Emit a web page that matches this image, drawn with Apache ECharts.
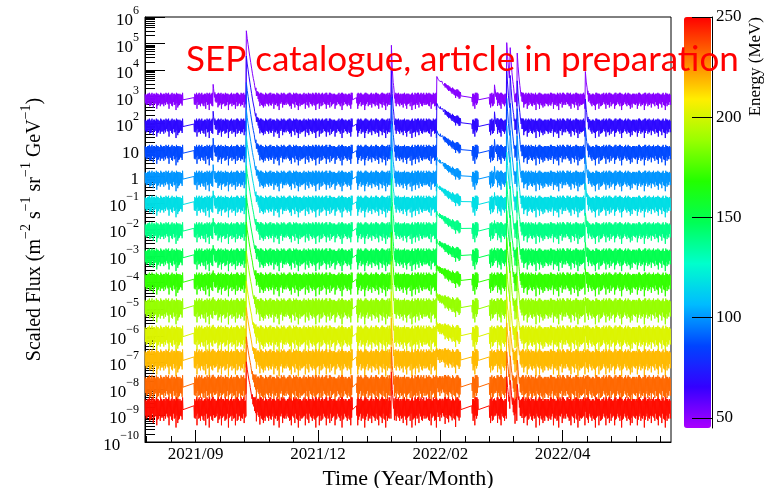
<!DOCTYPE html>
<html>
<head>
<meta charset="utf-8">
<script src="https://cdn.jsdelivr.net/npm/echarts@6/dist/echarts.min.js"></script>
<style>
  html, body { margin: 0; padding: 0; background: #fff; }
  #chart { width: 768px; height: 488px; }
</style>
</head>
<body>
<div id="chart"></div>
<script>
// ---- energy channels (MeV) and quiet-time scaled flux of each channel ----
const channelEnergy = [51, 68, 87, 100, 117, 139, 149, 171, 188, 202, 218, 232, 248];
const quietFlux = [850, 85, 8.5, 0.9, 0.1, 0.01, 1.0e-3, 1.2e-4, 1.2e-5, 1.1e-6, 1.4e-7, 1.4e-8, 2.0e-9];
// relative width of the fluctuation band of each channel
const bandWidth = [0.8, 0.9, 0.95, 0.95, 1.0, 1.0, 1.05, 1.1, 1.2, 1.25, 1.25, 1.35, 1.4];

// ---- observation window and data gaps ----
const firstDay = '2021-08-31';
const lastDay = '2022-06-28';
const dataGaps = [
  ['2021-09-22', '2021-09-27'],
  ['2021-12-28', '2021-12-29'],
  ['2022-02-28', '2022-03-05'],
  ['2022-03-10', '2022-03-15']
];

// ---- flux excursions per half day: upper (x0.045 dex), lower core (x0.055 dex), lower dips (x0.06 dex) ----
const digits = s => s.replace(/\s/g, '').split('').map(Number);
const upperAM = digits(
  '5454654546 4565454565 5456546414 4654545656 5465456545 4556465454 6545456546 4565545465 ' +
  '5456465545 4654556465 5545646554 4656454565 5165546545 4565456556 6454565454 5546456465 ' +
  '4655465545 5465546456 4556454156 6545465154 5465645546 4556546465 5654456545 4565546456 ' +
  '5465454655 4656545465 5454656546 4565465545 5546456454 4655545465 5456465546');
const upperPM = digits(
  '4565456545 5456465454 4655454656 5464565465 4556545546 5465456465 4556546545 5645465456 ' +
  '4565456554 5456545646 4656465454 5465545465 4556456546 5465465454 4656545565 5454656546 ' +
  '4565456454 5656545465 4545656546 5465454565 4656545456 5465456546 4556465455 5465545646 ' +
  '4656456545 5456545465 4565465456 5654546545 4565456565 5456546454 4565465546');
const lowerAM = digits(
  '4546354645 5435463546 4653546354 3546435465 5364546354 4536453546 3645354654 5463546435 ' +
  '4356453645 5436354654 4635453546 3546354654 5463546354 4536453645 3654354546 5436545364 ' +
  '4563546354 3546453645 5463546354 4635453546 5346354654 4536453546 3645354654 5463546435 ' +
  '4356453645 5436354654 4635453546 3546354654 5463546354 4536453645 3654354546');
const lowerPM = digits(
  '5465748564 6548465975 4158564758 5646859465 4758465946 5864657485 4659485764 6548569475 ' +
  '5468475965 4857465948 6548576485 4695465814 5846594657 4658475965 5486465748 4695857465 ' +
  '5468469575 4857465946 1548574685 1469485764 4758465946 5864657485 4659485764 6548569475 ' +
  '5468475965 4857465948 6548576485 4695465874 5846594657 4658475965 5486465748');

// ---- solar energetic particle events ----
const sepOnset = ['2021-10-09', '2021-10-28', '2022-01-19', '2022-02-14', '2022-03-19',
                  '2022-03-26', '2022-03-28', '2022-04-01', '2022-05-10'];
const sepShape = ['short', 'gle', 'fast', 'gradual', 'short', 'short', 'short', 'short', 'short'];
// peak event flux over the quiet level, in dex, per channel
const sepPeak = [
  [0.25, 0.2, 0.15, 0.1, 0.0, -0.1, -0.2, -0.4, -0.6, -0.8, -1, -1, -1],
  [2.55, 2.6, 2.6, 2.55, 2.5, 2.4, 2.3, 2.2, 2.1, 2.0, 1.9, 1.8, 1.7],
  [2.0, 2.05, 2.05, 2.0, 1.95, 1.9, 1.85, 1.8, 1.7, 1.6, 1.5, 1.4, 1.3],
  [0.72, 0.7, 0.66, 0.62, 0.56, 0.5, 0.42, 0.32, 0.18, 0.0, -0.3, -0.8, -1.2],
  [0.25, 0.2, 0.1, 0.0, -0.1, -0.3, -0.5, -0.7, -1, -1, -1, -1, -1],
  [2.1, 2.05, 2.0, 1.95, 1.9, 1.8, 1.7, 1.6, 1.5, 1.4, 1.3, 1.2, 1.1],
  [1.9, 1.85, 1.8, 1.75, 1.7, 1.6, 1.5, 1.4, 1.3, 1.2, 1.1, 1.0, 0.9],
  [1.7, 1.65, 1.6, 1.55, 1.5, 1.4, 1.3, 1.2, 1.1, 1.0, 0.9, 0.8, 0.7],
  [0.95, 0.9, 0.8, 0.7, 0.6, 0.4, 0.2, 0.0, -0.3, -0.6, -1, -1, -1]
];
// event time profiles in half-day steps (fraction of peak)
const fastProfile = [1, 0.12, 0.025, 0.006];
const shortProfile = [1, 0.3, 0.1, 0.035, 0.012, 0.004];
const gleProfile = [1, 0.5, 0.3, 0.17, 0.1, 0.06, 0.035, 0.02, 0.012, 0.007, 0.004, 0.0025,
                    0.0015, 0.0009, 0.0005, 0.0003];
const gradualProfile = [1, 0.9, 0.82, 0.75, 0.68, 0.62, 0.56, 0.51, 0.46, 0.42, 0.38, 0.35, 0.31,
                        0.28, 0.26, 0.24, 0.21, 0.19, 0.18, 0.16, 0.15, 0.13, 0.12, 0.11, 0.1,
                        0.09, 0.08, 0.07, 0.06, 0.05];

// ---- axis ticks ----
const timeMajorTicks = ['2021-09-29', '2021-12-08', '2022-02-16', '2022-04-27'];
const timeMinorTicks = ['2021-09-01', '2021-09-15', '2021-09-29', '2021-10-13', '2021-10-27',
  '2021-11-10', '2021-11-24', '2021-12-08', '2021-12-22', '2022-01-05', '2022-01-19',
  '2022-02-02', '2022-02-16', '2022-03-02', '2022-03-16', '2022-03-30', '2022-04-13',
  '2022-04-27', '2022-05-11', '2022-05-25', '2022-06-08', '2022-06-22'];
const fluxMinDecade = -10;
const fluxMaxDecade = 6;
const energyMin = 45;
const energyMax = 250;
const energyTicks = [50, 100, 150, 200, 250];
// colour wheel from violet to red
const paletteColors = ['hsl(280,100%,50%)', 'hsl(252,100%,50%)', 'hsl(224,100%,50%)',
  'hsl(196,100%,50%)', 'hsl(168,100%,50%)', 'hsl(140,100%,50%)', 'hsl(112,100%,50%)',
  'hsl(84,100%,50%)', 'hsl(56,100%,50%)', 'hsl(28,100%,50%)', 'hsl(0,100%,50%)'];

// ---- helpers ----
const DAY = 86400000;
const toMs = s => Date.parse(s + 'T00:00:00Z');
const startMs = toMs(firstDay);
const endMs = toMs(lastDay);
const dayIndex = s => Math.round((toMs(s) - startMs) / DAY);
const nDays = dayIndex(lastDay);
const gapIdx = dataGaps.map(g => [dayIndex(g[0]), dayIndex(g[1])]);
const onsetIdx = sepOnset.map(dayIndex);
const shapes = { fast: fastProfile, short: shortProfile, gle: gleProfile, gradual: gradualProfile };

function channelSeriesData(c) {
  const pts = [];
  for (let d = 0; d < nDays; d++) {
    if (gapIdx.some(g => d >= g[0] && d <= g[1])) continue;
    // four samples a day: upper, lower core, upper, lower dip
    const dexes = [0.045 * upperAM[d], -0.055 * lowerAM[d], 0.045 * upperPM[d], -0.06 * lowerPM[d]];
    for (let q = 0; q < 4; q++) {
      let v = quietFlux[c] * Math.pow(10, dexes[q] * bandWidth[c]);
      for (let e = 0; e < sepOnset.length; e++) {
        const prof = shapes[sepShape[e]];
        const k = 2 * (d - onsetIdx[e]) + (q >> 1);
        if (k >= 0 && k < prof.length) v += quietFlux[c] * Math.pow(10, sepPeak[e][c]) * prof[k];
      }
      pts.push([startMs + (d + q / 4) * DAY, v]);
    }
  }
  return pts;
}

const monthLabel = v => {
  const dt = new Date(v);
  return dt.getUTCFullYear() + '/' + String(dt.getUTCMonth() + 1).padStart(2, '0');
};
const decadeLabel = v => {
  if (v === 0) return '{b|1}';
  if (v === 1) return '{b|10}';
  return '{b|10}{s|' + (v < 0 ? '\u2212' + (-v) : v) + '}';
};
const minorLogTicks = [];
for (let k = fluxMinDecade; k < fluxMaxDecade; k++) {
  for (let m = 2; m <= 9; m++) minorLogTicks.push(k + Math.log10(m));
}

const serif = 'Liberation Serif';
const series = channelEnergy.map((E, c) => ({
  type: 'line',
  name: E + ' MeV',
  xAxisIndex: 0,
  yAxisIndex: 0,
  data: channelSeriesData(c),
  showSymbol: false,
  symbol: 'none',
  silent: true,
  lineStyle: { width: 1, color: echarts.color.lerp((E - energyMin) / (energyMax - energyMin), paletteColors) },
  z: 2
}));
// placeholder series that carries the colour scale
series.push({ type: 'scatter', xAxisIndex: 0, yAxisIndex: 0, data: [], silent: true });

const chart = echarts.init(document.getElementById('chart'));
chart.setOption({
  animation: false,
  backgroundColor: '#fff',
  grid: [
    { left: 145, top: 17, width: 526, height: 425, show: true, borderColor: '#000', borderWidth: 1,
      backgroundColor: 'transparent', containLabel: false, outerBoundsMode: 'none' },
    { left: 685, top: 17, width: 27, height: 411, show: false, containLabel: false, outerBoundsMode: 'none' }
  ],
  xAxis: [
    { type: 'value', gridIndex: 0, position: 'bottom', min: startMs, max: endMs,
      axisLine: { show: true, onZero: false, lineStyle: { color: '#000' } },
      axisTick: { show: true, inside: true, length: 6, customValues: timeMinorTicks.map(toMs),
                  lineStyle: { color: '#000' } },
      axisLabel: { show: false }, splitLine: { show: false } },
    { type: 'value', gridIndex: 0, position: 'bottom', min: startMs, max: endMs,
      axisLine: { show: false, onZero: false },
      axisTick: { show: true, inside: true, length: 12, customValues: timeMajorTicks.map(toMs),
                  lineStyle: { color: '#000' } },
      axisLabel: { customValues: timeMajorTicks.map(toMs), formatter: monthLabel, fontFamily: serif,
                   fontSize: 17, color: '#000', margin: 4 },
      splitLine: { show: false },
      name: 'Time (Year/Month)', nameLocation: 'middle', nameGap: 22,
      nameTextStyle: { fontFamily: serif, fontSize: 22, color: '#000' } },
    { type: 'value', gridIndex: 1, show: false, min: 0, max: 1, axisLine: { onZero: false } }
  ],
  yAxis: [
    { type: 'log', logBase: 10, gridIndex: 0, min: Math.pow(10, fluxMinDecade), max: Math.pow(10, fluxMaxDecade),
      show: false, axisLine: { onZero: false } },
    { type: 'value', gridIndex: 0, position: 'left', min: fluxMinDecade, max: fluxMaxDecade, interval: 1,
      axisLine: { show: true, onZero: false, lineStyle: { color: '#000' } },
      axisTick: { show: true, inside: true, length: 20, lineStyle: { color: '#000' } },
      axisLabel: { formatter: decadeLabel, margin: 6, color: '#000',
        rich: {
          b: { fontFamily: serif, fontSize: 17, color: '#000', lineHeight: 24, verticalAlign: 'bottom' },
          s: { fontFamily: serif, fontSize: 12, color: '#000', lineHeight: 12, verticalAlign: 'top' }
        } },
      splitLine: { show: false },
      name: '{t|Scaled Flux (m}{s|\u22122}{t| s}{s|\u22121}{t| sr}{s|\u22121}{t| GeV}{s|\u22121}{t|)}',
      nameLocation: 'middle', nameGap: 100, nameRotate: 90,
      nameTextStyle: { color: '#000',
        rich: {
          t: { fontFamily: serif, fontSize: 20, color: '#000', lineHeight: 26, verticalAlign: 'bottom' },
          s: { fontFamily: serif, fontSize: 14, color: '#000', lineHeight: 14, verticalAlign: 'top' }
        } } },
    { type: 'value', gridIndex: 0, position: 'left', min: fluxMinDecade, max: fluxMaxDecade,
      axisLine: { show: false, onZero: false },
      axisTick: { show: true, inside: true, length: 10, customValues: minorLogTicks,
                  lineStyle: { color: '#000' } },
      axisLabel: { show: false }, splitLine: { show: false } },
    { type: 'value', gridIndex: 1, position: 'right', min: energyMin, max: energyMax, z: 10,
      axisLine: { show: true, onZero: false, lineStyle: { color: '#000' } },
      axisTick: { show: true, inside: true, length: 20, customValues: energyTicks, lineStyle: { color: '#000' } },
      axisLabel: { customValues: energyTicks, fontFamily: serif, fontSize: 17, color: '#000', margin: 4 },
      splitLine: { show: false } }
  ],
  visualMap: [{
    type: 'continuous', min: energyMin, max: energyMax, seriesIndex: channelEnergy.length,
    left: 669, top: 2, itemWidth: 27, itemHeight: 411, calculable: false, hoverLink: false,
    inRange: { color: paletteColors }, z: 4
  }],
  graphic: [
    { type: 'text', x: 756, y: 17, rotation: Math.PI / 2, z: 10,
      style: { text: 'Energy (MeV)', font: '17px "Liberation Serif"', fill: '#000',
               align: 'right', verticalAlign: 'middle' } },
    { type: 'text', x: 186, y: 60, z: 100,
      style: { text: 'SEP catalogue, article in preparation', font: '35px Lato', fill: '#ff0000',
               align: 'left', verticalAlign: 'middle' } }
  ],
  series: series
});
</script>
</body>
</html>
